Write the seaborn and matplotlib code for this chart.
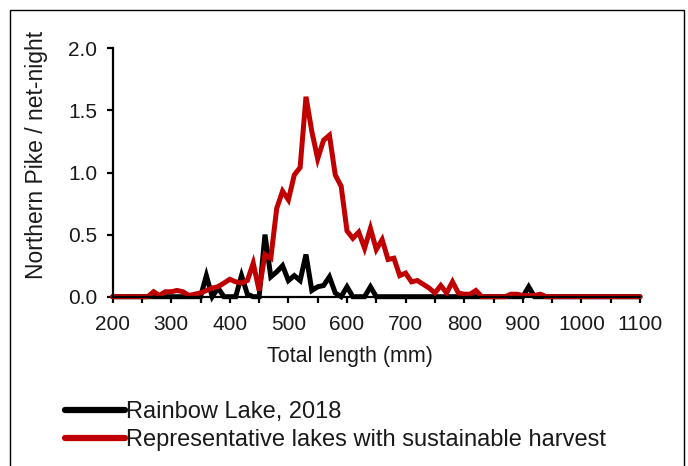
import numpy as np
import pandas as pd
import matplotlib
matplotlib.use("Agg")
import matplotlib.pyplot as plt
from matplotlib.patches import Rectangle
from matplotlib.ticker import MultipleLocator, FormatStrFormatter
import seaborn as sns

# ---- data (10-mm length bins) ----
lengths = list(range(200, 1110, 10))

rainbow = [
    0, 0, 0, 0, 0, 0, 0, 0, 0, 0,            # 200-290
    0, 0, 0, 0, 0, 0, 0.17, 0, 0.07, 0,      # 300-390
    0, 0, 0.17, 0.02, 0, 0, 0.50, 0.16, 0.20, 0.25,  # 400-490
    0.13, 0.17, 0.13, 0.34, 0.05, 0.08, 0.09, 0.16, 0.03, 0,  # 500-590
    0.08, 0, 0, 0, 0.08, 0, 0, 0, 0, 0,      # 600-690
    0, 0, 0, 0, 0, 0, 0, 0, 0, 0,            # 700-790
    0, 0, 0, 0, 0, 0, 0, 0, 0, 0,            # 800-890
    0, 0.08, 0, 0, 0, 0, 0, 0, 0, 0,         # 900-990
    0, 0, 0, 0, 0, 0, 0, 0, 0, 0,            # 1000-1090
    0,                                       # 1100
]

representative = [
    0, 0, 0, 0, 0, 0, 0, 0.04, 0.01, 0.04,              # 200-290
    0.04, 0.05, 0.04, 0.01, 0.02, 0.03, 0.05, 0.07, 0.08, 0.11,  # 300-390
    0.14, 0.12, 0.11, 0.13, 0.27, 0.05, 0.34, 0.31, 0.71, 0.85,  # 400-490
    0.78, 0.98, 1.04, 1.61, 1.33, 1.11, 1.26, 1.30, 0.98, 0.89,  # 500-590
    0.53, 0.47, 0.52, 0.39, 0.55, 0.38, 0.46, 0.30, 0.31, 0.17,  # 600-690
    0.19, 0.12, 0.13, 0.10, 0.07, 0.03, 0.09, 0.03, 0.12, 0.03,  # 700-790
    0.02, 0.02, 0.05, 0, 0, 0, 0, 0, 0.02, 0.02,        # 800-890
    0.01, 0.01, 0.01, 0.02, 0, 0, 0, 0, 0, 0,           # 900-990
    0, 0, 0, 0, 0, 0, 0, 0, 0, 0,                       # 1000-1090
    0,                                                  # 1100
]

series_names = ["Rainbow Lake, 2018", "Representative lakes with sustainable harvest"]
series_colors = ["#000000", "#C00000"]

df = pd.concat([
    pd.DataFrame({"length": lengths, "value": rainbow, "series": series_names[0]}),
    pd.DataFrame({"length": lengths, "value": representative, "series": series_names[1]}),
], ignore_index=True)

# ---- figure ----
sns.set_theme(style="white")
plt.rcParams["font.family"] = ["Liberation Sans", "DejaVu Sans"]
NARROW = ["Liberation Sans Narrow", "Liberation Sans", "DejaVu Sans"]
TXT = "#1a1a1a"

W, H = 688, 466
fig = plt.figure(figsize=(W / 100, H / 100), dpi=100)
ax = fig.add_axes([112.6 / W, 1 - 296.7 / H, (640 - 112.6) / W, (296.7 - 48.3) / H])

sns.lineplot(data=df, x="length", y="value", hue="series",
             palette=dict(zip(series_names, series_colors)),
             linewidth=3.6, ax=ax, legend=False, clip_on=False,
             solid_joinstyle="miter")

ax.set_xlim(200, 1100)
ax.set_ylim(0, 2.0)
ax.xaxis.set_major_locator(MultipleLocator(100))
ax.xaxis.set_minor_locator(MultipleLocator(50))
ax.yaxis.set_major_locator(MultipleLocator(0.5))
ax.yaxis.set_major_formatter(FormatStrFormatter("%.1f"))

for s in ["top", "right"]:
    ax.spines[s].set_visible(False)
for s in ["left", "bottom"]:
    ax.spines[s].set_color("black")
    ax.spines[s].set_linewidth(1.6)

ax.tick_params(axis="both", which="both", direction="out", length=4, width=1.6,
               color="black", labelcolor=TXT, pad=7)
ax.tick_params(axis="x", which="both", bottom=True, pad=9)
ax.tick_params(axis="y", which="both", left=True)
for lab in ax.get_xticklabels() + ax.get_yticklabels():
    lab.set_fontfamily(NARROW)
    lab.set_fontsize(15)

ax.set_xlabel("Total length (mm)", fontsize=15.5, color=TXT, family=NARROW)
ax.xaxis.set_label_coords(0.45, -0.197)
ax.set_ylabel("Northern Pike / net-night", fontsize=16.5, color=TXT)
ax.yaxis.set_label_coords(-0.122, 0.57)
ax.set_facecolor("white")

# legend
lines = ax.get_lines()
handles = []
for name, col in zip(series_names, series_colors):
    for ln in lines:
        if matplotlib.colors.to_hex(ln.get_color()).lower() == col.lower():
            handles.append(ln)
            break
leg = fig.legend(handles, series_names, loc="upper left",
                 bbox_to_anchor=(65 / W, 1 - 401 / H), frameon=False,
                 fontsize=17, handlelength=2.55, handletextpad=0.05,
                 labelspacing=0.25, borderaxespad=0, borderpad=0)
for t in leg.get_texts():
    t.set_color(TXT)
for lh in leg.get_lines():
    lh.set_linewidth(4.5)

# outer frame
fig.patches.append(Rectangle((10 / W, -0.1), (684 - 10) / W, (H - 10) / H + 0.1,
                             transform=fig.transFigure, fill=False,
                             edgecolor="black", linewidth=1.0))

fig.savefig("out.png", dpi=100, facecolor="white")
